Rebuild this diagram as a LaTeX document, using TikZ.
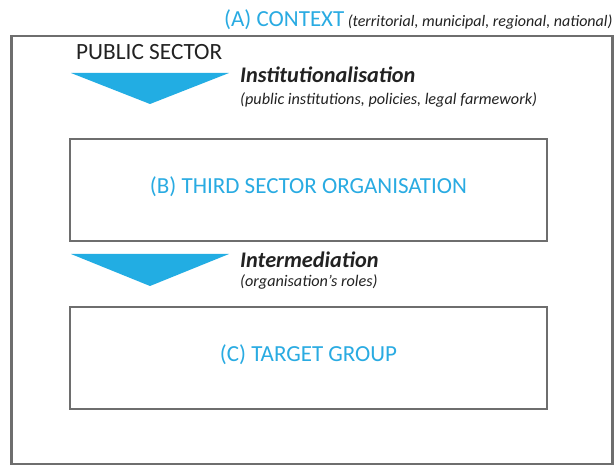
\documentclass[tikz,border=0pt]{standalone}
\usepackage{fontspec}
\setmainfont{Carlito}
\definecolor{framegray}{HTML}{6E6E6E}
\definecolor{cyanblue}{HTML}{29ABE2}
\definecolor{arrowblue}{HTML}{22ADE3}
\definecolor{textdark}{HTML}{222222}
\begin{document}
\begin{tikzpicture}[x=1pt,y=-1pt,
  frame/.style={draw=framegray,line width=2.6pt},
  blueheading/.style={text=cyanblue,font=\fontsize{23}{26}\selectfont,anchor=center,inner sep=0pt},
  flowtitle/.style={text=textdark,font=\fontsize{22.3}{25}\selectfont\bfseries\itshape,anchor=west,inner sep=0pt},
  flownote/.style={text=textdark,font=\fontsize{16.2}{18}\selectfont\itshape,anchor=west,inner sep=0pt},
  flowarrow/.style={fill=arrowblue,draw=none}]
\useasboundingbox (0,0) rectangle (614,465);
\fill[white] (0,0) rectangle (614,465);
% outer context frame
\draw[draw=framegray,line width=2.4pt] (11.5,36) rectangle (612.5,464);
% heading
\node[text=cyanblue,font=\fontsize{23}{26}\selectfont,anchor=base west,inner sep=0pt] (ctx) at (224,27) {(A) CONTEXT};
\node[text=textdark,font=\fontsize{16}{18}\selectfont\itshape,anchor=base west,inner sep=0pt] (ctxnote) at ([xshift=3pt]ctx.base east) {(territorial, municipal, regional, national)};
% public sector
\node[text=textdark,font=\fontsize{23.3}{26}\selectfont,anchor=base west,inner sep=0pt] (pub) at (76,60) {PUBLIC SECTOR};
% arrow 1
\coordinate (a1l) at (71,73);
\coordinate (a1r) at (229,73);
\coordinate (a1t) at (150,104);
\fill[flowarrow] (a1l) -- (a1r) -- (a1t) -- cycle;
\node[flowtitle,anchor=base west] (inst) at (240,83) {Institutionalisation};
\node[flownote,anchor=base west] (instnote) at (240,105) {(public institutions, policies, legal farmework)};
% box B
\node[frame,minimum width=477pt,minimum height=102pt,inner sep=0pt] (tso) at (308.5,190) {};
\node[blueheading] at ([yshift=3pt]tso.center) {(B) THIRD SECTOR ORGANISATION};
% arrow 2
\coordinate (a2l) at (71,254);
\coordinate (a2r) at (229,254);
\coordinate (a2t) at (150,286);
\fill[flowarrow] (a2l) -- (a2r) -- (a2t) -- cycle;
\node[flowtitle,anchor=base west] (inter) at (240,268) {Intermediation};
\node[flownote,anchor=base west] (internote) at (240,287) {(organisation’s roles)};
% box C
\node[frame,minimum width=477pt,minimum height=102pt,inner sep=0pt] (tg) at (308.5,358) {};
\node[blueheading] at ([yshift=3pt]tg.center) {(C) TARGET GROUP};
\end{tikzpicture}
\end{document}
